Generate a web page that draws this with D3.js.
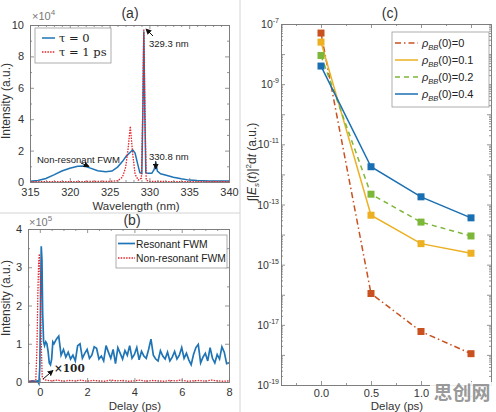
<!DOCTYPE html>
<html>
<head>
<meta charset="utf-8">
<script src="https://cdn.jsdelivr.net/npm/d3@7"></script>
<style>
body { margin: 0; background: #fff; }
svg { font-family: "Liberation Sans", Arial, sans-serif; }
.axis path, .axis line { stroke: #7a7a7a; stroke-width: 0.8; }
.axis text { fill: #333; font-size: 11px; font-family: "Liberation Sans", Arial, sans-serif; }
</style>
</head>
<body>
<div id="chart"></div>
<script>
// ---------- DATA ----------
// (a) spectra, intensity in units of 1e4
var wavelengthA = [315, 316, 317, 318, 319, 320, 321, 321.8, 322.5, 323.5, 324.5, 325.3, 326, 326.6, 327.1, 327.5, 327.9, 328.2, 328.5, 328.8, 329.05, 329.18, 329.3, 329.42, 329.55, 329.8, 330.3, 330.6, 330.8, 331.0, 331.4, 332, 333, 334, 335, 336, 337.5, 340];
var tau0 = [0.05, 0.1, 0.22, 0.45, 0.7, 0.88, 1.0, 1.02, 0.9, 0.72, 0.65, 0.7, 0.95, 1.3, 1.65, 1.85, 2.05, 1.85, 1.2, 0.6, 0.55, 4.5, 9.6, 4.5, 0.6, 0.55, 0.55, 0.8, 1.25, 0.7, 0.52, 0.45, 0.3, 0.2, 0.12, 0.09, 0.07, 0.06];
var wavelengthB = [315, 318, 322, 325, 326, 326.6, 327, 327.3, 327.6, 327.9, 328.2, 328.6, 329.0, 329.15, 329.3, 329.45, 329.6, 330, 332, 336, 340];
var tau1 = [0.03, 0.03, 0.03, 0.04, 0.08, 0.3, 0.9, 2.0, 3.55, 1.8, 0.5, 0.12, 0.25, 4.2, 9.75, 4.2, 0.12, 0.04, 0.03, 0.03, 0.03];

// (b) delay scans, intensity in units of 1e5
var delayRes = [-0.5, -0.4, -0.3, -0.2, -0.1, -0.04, 0.0, 0.03, 0.06, 0.09, 0.12, 0.16, 0.2, 0.25, 0.3, 0.35, 0.4, 0.45, 0.5, 0.55, 0.6, 0.7, 0.8, 0.9, 1.0, 1.1, 1.2, 1.3, 1.4, 1.5, 1.6, 1.7, 1.8, 1.9, 2.0, 2.1, 2.2, 2.3, 2.4, 2.5, 2.6, 2.7, 2.8, 2.9, 3.0, 3.1, 3.2, 3.3, 3.4, 3.5, 3.6, 3.7, 3.8, 3.9, 4.0, 4.1, 4.2, 4.3, 4.4, 4.5, 4.6, 4.7, 4.8, 4.9, 5.0, 5.1, 5.2, 5.3, 5.4, 5.5, 5.6, 5.7, 5.8, 5.9, 6.0, 6.1, 6.2, 6.3, 6.4, 6.5, 6.6, 6.7, 6.8, 6.9, 7.0, 7.1, 7.2, 7.3, 7.4, 7.5, 7.6, 7.7, 7.8, 7.9, 8.0];
var resonant = [0.02, 0.02, 0.03, 0.02, 0.03, -0.04, 0.4, 2.0, 3.55, 3.2, 1.8, 1.05, 0.95, 1.05, 1.0, 0.8, 0.5, 0.45, 0.6, 1.05, 1.0, 1.12, 1.2, 0.7, 0.85, 0.65, 0.78, 0.6, 0.7, 0.55, 0.95, 1.0, 0.62, 0.75, 0.85, 0.62, 0.7, 0.92, 0.88, 0.6, 0.68, 0.55, 0.95, 0.78, 0.62, 0.85, 0.48, 0.9, 0.75, 0.6, 0.82, 0.7, 0.95, 0.62, 0.72, 0.9, 0.58, 0.8, 0.68, 0.62, 0.85, 1.12, 0.7, 0.6, 0.55, 0.82, 0.68, 0.6, 0.78, 0.55, 0.65, 0.8, 0.6, 0.7, 0.9, 0.62, 0.75, 0.58, 0.45, 0.72, 0.9, 0.98, 0.5, 0.65, 0.75, 0.55, 0.9, 0.62, 0.5, 0.72, 0.6, 0.92, 0.78, 0.48, 0.5];
var delayNon = [-0.5, -0.35, -0.22, -0.17, -0.12, -0.08, -0.05, -0.02, 0.02, 0.06, 0.1, 0.15, 0.25, 0.5, 0.75, 1.0, 1.25, 1.5, 1.75, 2.0, 2.25, 2.5, 2.75, 3.0, 3.25, 3.5, 3.75, 4.0, 4.25, 4.5, 4.75, 5.0, 5.25, 5.5, 5.75, 6.0, 6.25, 6.5, 6.75, 7.0, 7.25, 7.5, 7.75, 8.0];
var nonresonant = [0.02, 0.03, 0.02, 0.06, 0.9, 2.4, 3.1, 3.35, 2.6, 1.0, 0.15, 0.07, 0.05, 0.03, 0.05, 0.02, 0.04, 0.03, 0.05, 0.02, 0.04, 0.03, 0.02, 0.05, 0.03, 0.04, 0.02, 0.03, 0.05, 0.02, 0.04, 0.03, 0.02, 0.04, 0.03, 0.05, 0.02, 0.03, 0.04, 0.02, 0.05, 0.03, 0.02, 0.03];

// (c) integrated signal vs delay
var delayC = [0, 0.5, 1.0, 1.5];
var rho0 = [5e-8, 1.1e-16, 6e-18, 1.1e-18];
var rho01 = [2.5e-8, 4.4e-14, 5e-15, 2.4e-15];
var rho02 = [9e-9, 2.2e-13, 2.6e-14, 9e-15];
var rho04 = [4e-9, 1.8e-12, 1.8e-13, 3.6e-14];
var seriesNamesC = ['0', '0.1', '0.2', '0.4'];

// tick labels
var ticksAx = [315, 320, 325, 330, 335, 340];
var ticksAy = [0, 2, 4, 6, 8, 10];
var ticksBx = [0, 2, 4, 6, 8];
var ticksBy = [0, 1, 2, 3, 4];
var ticksCx = [0, 0.5, 1.0, 1.5];
var ticksCexp = [-19, -17, -15, -13, -11, -9, -7];

// ---------- SET UP ----------
var w = 496, h = 412;
var blue = '#1f74b6', red = '#e6252b';
var colorsC = ['#c9511f', '#ecb022', '#7db73a', '#1a6fb2'];

var svg = d3.select('#chart').append('svg')
  .attr('width', w)
  .attr('height', h);
svg.append('rect').attr('width', w).attr('height', h).attr('fill', '#fff');

var defs = svg.append('defs');
defs.append('marker')
  .attr('id', 'arrow')
  .attr('viewBox', '0 0 8 8')
  .attr('refX', 7).attr('refY', 4)
  .attr('markerWidth', 6).attr('markerHeight', 6)
  .attr('markerUnits', 'userSpaceOnUse')
  .attr('orient', 'auto')
  .append('path').attr('d', 'M0,0 L8,4 L0,8 z').attr('fill', '#111');

// panel separators
svg.append('line').attr('x1', 240).attr('x2', 240).attr('y1', 0).attr('y2', h)
  .attr('stroke', '#d4d4d4').attr('stroke-width', 1);
svg.append('line').attr('x1', 0).attr('x2', 240).attr('y1', 213).attr('y2', 213)
  .attr('stroke', '#d4d4d4').attr('stroke-width', 1);

function translation(x, y) {
  return 'translate(' + x + ',' + y + ')';
}

// draws a MATLAB style box: ticks inside on all four sides
function boxAxes(x, y, o) {
  var xr = x.range(), yr = y.range();
  var left = xr[0], right = xr[1], bottom = yr[0], top = yr[1];
  var xsets = [[o.xTicks, 4, o.xFormat], [o.xMinor || [], 2, '']];
  var ysets = [[o.yTicks, 4, o.yFormat], [o.yMinor || [], 2, '']];
  xsets.forEach(function(s) {
    svg.append('g').attr('class', 'axis').attr('transform', translation(0, bottom))
      .call(d3.axisBottom(x).tickValues(s[0]).tickFormat(s[2]).tickSizeInner(-s[1]).tickSizeOuter(0).tickPadding(o.xPad));
    svg.append('g').attr('class', 'axis').attr('transform', translation(0, top))
      .call(d3.axisTop(x).tickValues(s[0]).tickFormat('').tickSizeInner(-s[1]).tickSizeOuter(0));
  });
  ysets.forEach(function(s) {
    svg.append('g').attr('class', 'axis').attr('transform', translation(left, 0))
      .call(d3.axisLeft(y).tickValues(s[0]).tickFormat(s[2]).tickSizeInner(-s[1]).tickSizeOuter(0).tickPadding(o.yPad));
    svg.append('g').attr('class', 'axis').attr('transform', translation(right, 0))
      .call(d3.axisRight(y).tickValues(s[0]).tickFormat('').tickSizeInner(-s[1]).tickSizeOuter(0));
  });
}

function label(x, y, txt, size, rot) {
  var t = svg.append('text').attr('x', x).attr('y', y)
    .attr('text-anchor', 'middle').attr('font-size', size).attr('fill', '#333').text(txt);
  if (rot) t.attr('transform', 'rotate(-90,' + x + ',' + y + ')');
  return t;
}

// ---------- PANEL (a) ----------
var xA = d3.scaleLinear().domain([315, 340]).range([30, 229]);
var yA = d3.scaleLinear().domain([0, 10]).range([182, 25]);

var lineA = d3.line().x(function(d) { return xA(d[0]); }).y(function(d) { return yA(d[1]); });
svg.append('path').datum(d3.zip(wavelengthA, tau0))
  .attr('d', lineA).attr('fill', 'none').attr('stroke', blue).attr('stroke-width', 1.5);
svg.append('path').datum(d3.zip(wavelengthB, tau1))
  .attr('d', lineA).attr('fill', 'none').attr('stroke', red).attr('stroke-width', 1.3)
  .attr('stroke-dasharray', '1.5,1.2');

boxAxes(xA, yA, {
  xTicks: ticksAx, xMinor: d3.range(316, 340, 1).filter(function(v) { return v % 5; }), xFormat: d3.format('d'), xPad: 6,
  yTicks: ticksAy, yMinor: [1, 3, 5, 7, 9], yFormat: d3.format('d'), yPad: 6
});

var e4 = svg.append('text').attr('x', 32).attr('y', 20).attr('font-size', 11).attr('fill', '#777').text('×10');
e4.append('tspan').attr('dy', -5).attr('font-size', 8).text('4');

label(130, 18, '(a)', 14);
label(136, 209.5, 'Wavelength (nm)', 11.5);
label(10, 101, 'Intensity (a.u.)', 12, true);

// legend (a)
var legA = svg.append('g');
legA.append('rect').attr('x', 35).attr('y', 28).attr('width', 76).attr('height', 35)
  .attr('fill', '#fff').attr('stroke', '#999').attr('stroke-width', 0.8);
legA.append('line').attr('x1', 42).attr('x2', 55).attr('y1', 38).attr('y2', 38)
  .attr('stroke', blue).attr('stroke-width', 1.5);
legA.append('line').attr('x1', 42).attr('x2', 55).attr('y1', 52).attr('y2', 52)
  .attr('stroke', red).attr('stroke-width', 1.3).attr('stroke-dasharray', '1.5,1.2');
legA.selectAll('text.leg').data(['τ = 0', 'τ = 1 ps']).enter().append('text')
  .attr('x', 59).attr('y', function(d, i) { return 42 + i * 14; })
  .attr('font-family', '"DejaVu Serif", serif').attr('font-size', 11.5).attr('fill', '#222')
  .text(function(d) { return d; });

// annotations (a)
svg.append('text').attr('x', 149).attr('y', 47).attr('font-size', 9.5).attr('fill', '#222').text('329.3 nm');
svg.append('line').attr('x1', 153).attr('y1', 36).attr('x2', 146).attr('y2', 29)
  .attr('stroke', '#111').attr('stroke-width', 1).attr('marker-end', 'url(#arrow)');
svg.append('text').attr('x', 149).attr('y', 159.5).attr('font-size', 9.5).attr('fill', '#222').text('330.8 nm');
svg.append('line').attr('x1', xA(330.8)).attr('y1', 161).attr('x2', xA(330.8)).attr('y2', 169)
  .attr('stroke', '#111').attr('stroke-width', 1).attr('marker-end', 'url(#arrow)');
svg.append('text').attr('x', 37).attr('y', 162.5).attr('font-size', 9.5).attr('fill', '#222').text('Non-resonant FWM');
svg.append('line').attr('x1', 81).attr('y1', 163).attr('x2', 89).attr('y2', 166.5)
  .attr('stroke', '#111').attr('stroke-width', 1).attr('marker-end', 'url(#arrow)');

// ---------- PANEL (b) ----------
var xB = d3.scaleLinear().domain([-0.5, 8]).range([28, 229]);
var yB = d3.scaleLinear().domain([0, 4]).range([382, 229]);

var lineB = d3.line().x(function(d) { return xB(d[0]); }).y(function(d) { return yB(d[1]); });
svg.append('path').datum(d3.zip(delayRes, resonant))
  .attr('d', lineB).attr('fill', 'none').attr('stroke', blue).attr('stroke-width', 1.7);
svg.append('path').datum(d3.zip(delayNon, nonresonant))
  .attr('d', lineB).attr('fill', 'none').attr('stroke', red).attr('stroke-width', 1.3)
  .attr('stroke-dasharray', '1.5,1.2');

boxAxes(xB, yB, {
  xTicks: ticksBx, xMinor: [-0.5, 0.5, 1, 1.5, 2.5, 3, 3.5, 4.5, 5, 5.5, 6.5, 7, 7.5], xFormat: d3.format('d'), xPad: 6,
  yTicks: ticksBy, yMinor: [0.5, 1.5, 2.5, 3.5], yFormat: d3.format('d'), yPad: 6
});

var e5 = svg.append('text').attr('x', 29).attr('y', 226).attr('font-size', 11).attr('fill', '#777').text('×10');
e5.append('tspan').attr('dy', -5).attr('font-size', 8).text('5');

label(132, 225, '(b)', 14);
label(135, 409.5, 'Delay (ps)', 11.5);
label(10, 298, 'Intensity (a.u.)', 12, true);

// legend (b)
var legB = svg.append('g');
legB.append('rect').attr('x', 116).attr('y', 235).attr('width', 111).attr('height', 33)
  .attr('fill', '#fff').attr('stroke', '#999').attr('stroke-width', 0.8);
legB.append('line').attr('x1', 118).attr('x2', 135).attr('y1', 243.5).attr('y2', 243.5)
  .attr('stroke', blue).attr('stroke-width', 1.7);
legB.append('line').attr('x1', 118).attr('x2', 135).attr('y1', 258).attr('y2', 258)
  .attr('stroke', red).attr('stroke-width', 1.3).attr('stroke-dasharray', '1.5,1.2');
legB.selectAll('text.leg').data(['Resonant FWM', 'Non-resonant FWM']).enter().append('text')
  .attr('x', 136).attr('y', function(d, i) { return 247.5 + i * 14.5; })
  .attr('font-size', 10.3).attr('fill', '#222')
  .text(function(d) { return d; });

// x100 marker
svg.append('line').attr('x1', 43).attr('y1', 379).attr('x2', 53).attr('y2', 370.5)
  .attr('stroke', '#111').attr('stroke-width', 1).attr('marker-end', 'url(#arrow)');
svg.append('text').attr('x', 54).attr('y', 372).attr('font-family', '"DejaVu Serif", serif')
  .attr('font-weight', 'bold').attr('font-size', 10.5).attr('fill', '#222').text('×100');

// ---------- PANEL (c) ----------
var xC = d3.scaleLinear().domain([-0.4, 1.7]).range([281, 491]);
var yC = d3.scaleLog().domain([1e-19, 1e-7]).range([385, 24]);

var decades = d3.range(-19, -6).map(function(e) { return Math.pow(10, e); });
var minorC = [];
d3.range(-19, -7).forEach(function(e) {
  [2, 3, 4, 5, 6, 7, 8, 9].forEach(function(m) { minorC.push(m * Math.pow(10, e)); });
});

boxAxes(xC, yC, {
  xTicks: ticksCx, xMinor: [-0.25, 0.25, 0.75, 1.25], xFormat: d3.format('.1f'), xPad: 4,
  yTicks: decades, yMinor: minorC, yFormat: '', yPad: 3
});

ticksCexp.forEach(function(e) {
  var t = svg.append('text').attr('x', 279).attr('y', yC(Math.pow(10, e)) + 4)
    .attr('text-anchor', 'end').attr('font-size', 10.5).attr('fill', '#333').text('10');
  t.append('tspan').attr('dy', -5).attr('font-size', 7).text(String(e));
});

var dataC = [rho0, rho01, rho02, rho04];
var dashC = ['6,3,1.5,3', null, '5,4', null];
var lineC = d3.line().x(function(d) { return xC(d[0]); }).y(function(d) { return yC(d[1]); });

dataC.forEach(function(vals, i) {
  svg.append('path').datum(d3.zip(delayC, vals))
    .attr('d', lineC).attr('fill', 'none').attr('stroke', colorsC[i]).attr('stroke-width', 1.5)
    .attr('stroke-dasharray', dashC[i]);
});
dataC.forEach(function(vals, i) {
  svg.append('g').selectAll('rect').data(d3.zip(delayC, vals)).enter().append('rect')
    .attr('x', function(d) { return xC(d[0]) - 3.5; })
    .attr('y', function(d) { return yC(d[1]) - 3.5; })
    .attr('width', 7).attr('height', 7)
    .attr('fill', colorsC[i]);
});

label(390, 18, '(c)', 14);
label(397, 409.5, 'Delay (ps)', 11.5);

// y label (c)
var yl = svg.append('text').attr('x', 256).attr('y', 162)
  .attr('text-anchor', 'middle').attr('font-size', 12).attr('fill', '#333')
  .attr('transform', 'rotate(-90,256,162)');
yl.append('tspan').text('∫|');
yl.append('tspan').attr('font-style', 'italic').text('E');
yl.append('tspan').attr('font-size', 8).attr('dy', 3).attr('font-style', 'italic').text('s');
yl.append('tspan').attr('dy', -3).text('(');
yl.append('tspan').attr('font-style', 'italic').text('t');
yl.append('tspan').text(')|');
yl.append('tspan').attr('font-size', 8).attr('dy', -5).text('2');
yl.append('tspan').attr('dy', 5).text('d');
yl.append('tspan').attr('font-style', 'italic').text('t');
yl.append('tspan').text(' (a.u.)');

// legend (c)
var legC = svg.append('g');
legC.append('rect').attr('x', 392).attr('y', 32).attr('width', 97).attr('height', 75)
  .attr('fill', '#fff').attr('stroke', '#999').attr('stroke-width', 0.8);
seriesNamesC.forEach(function(n, i) {
  var yy = 43 + i * 17;
  legC.append('line').attr('x1', 395).attr('x2', 418).attr('y1', yy).attr('y2', yy)
    .attr('stroke', colorsC[i]).attr('stroke-width', 1.5).attr('stroke-dasharray', dashC[i]);
  var t = legC.append('text').attr('x', 422).attr('y', yy + 4).attr('font-size', 11).attr('fill', '#222');
  t.append('tspan').attr('font-style', 'italic').text('ρ');
  t.append('tspan').attr('font-style', 'italic').attr('font-size', 7.5).attr('dy', 3).text('BB');
  t.append('tspan').attr('dy', -3).text('(0)=' + n);
});

// watermark, it sits over the last tick label like in the source
svg.append('rect').attr('x', 430).attr('y', 382).attr('width', 64).attr('height', 22)
  .attr('fill', '#fff').attr('fill-opacity', 0.85);
svg.append('text').attr('x', 462).attr('y', 400).attr('text-anchor', 'middle')
  .attr('font-family', '"Noto Sans CJK SC", sans-serif').attr('font-weight', 'bold')
  .attr('font-size', 19).attr('fill', '#8c8c8c').attr('fill-opacity', 0.9).text('思创网');
</script>
</body>
</html>
